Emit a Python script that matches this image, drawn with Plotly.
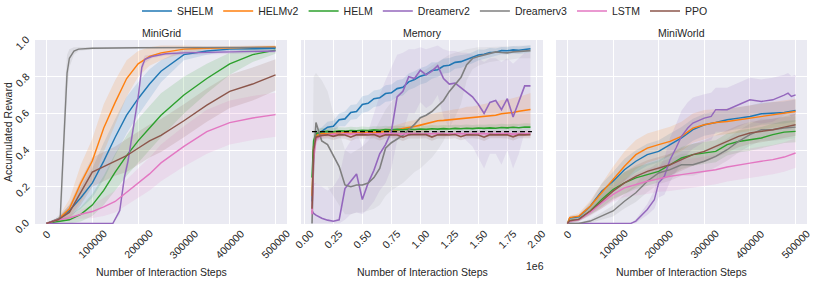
import plotly.graph_objects as go

# ---------------- series names / colours ----------------
NAMES = ["SHELM", "HELMv2", "HELM", "Dreamerv2", "Dreamerv3", "LSTM", "PPO"]
COLORS = ["#1f77b4", "#ff7f0e", "#2ca02c", "#9467bd", "#7f7f7f", "#e377c2", "#8c564b"]

PANEL_TITLES = ["MiniGrid", "Memory", "MiniWorld"]
X_TITLE = "Number of Interaction Steps"
Y_TITLE = "Accumulated Reward"

# ---------------- tick labels ----------------
STEP_TICKS = [0, 100000, 200000, 300000, 400000, 500000]
STEP_TICKTEXT = ["0", "100000", "200000", "300000", "400000", "500000"]
MEM_TICKS = [0, 250000, 500000, 750000, 1000000, 1250000, 1500000, 1750000, 2000000]
MEM_TICKTEXT = ["0.00", "0.25", "0.50", "0.75", "1.00", "1.25", "1.50", "1.75", "2.00"]
MEM_OFFSET_TEXT = "1e6"
Y_TICKS = [0.0, 0.2, 0.4, 0.6, 0.8, 1.0]
Y_TICKTEXT = ["0.0", "0.2", "0.4", "0.6", "0.8", "1.0"]

# ---------------- MiniGrid ----------------
MG_X = [0, 25000, 50000, 75000, 100000, 125000, 150000, 175000, 200000, 225000,
        250000, 300000, 350000, 400000, 450000, 500000]
MG_SHELM = [0, 0.02, 0.07, 0.14, 0.22, 0.34, 0.47, 0.59, 0.68, 0.76, 0.83, 0.92, 0.94, 0.95, 0.952, 0.955]
MG_SHELM_ERR = [0, 0.01, 0.03, 0.06, 0.08, 0.10, 0.10, 0.10, 0.09, 0.08, 0.06, 0.03, 0.02, 0.01, 0.01, 0.01]
MG_HELMV2 = [0, 0.02, 0.08, 0.22, 0.34, 0.52, 0.66, 0.79, 0.87, 0.91, 0.93, 0.95, 0.955, 0.958, 0.96, 0.962]
MG_HELMV2_ERR = [0, 0.01, 0.05, 0.10, 0.12, 0.13, 0.12, 0.10, 0.07, 0.05, 0.04, 0.02, 0.01, 0.01, 0.01, 0.01]
MG_HELM = [0, 0.01, 0.02, 0.05, 0.10, 0.18, 0.28, 0.37, 0.45, 0.52, 0.59, 0.70, 0.79, 0.87, 0.92, 0.945]
MG_HELM_ERR = [0, 0.01, 0.02, 0.04, 0.06, 0.08, 0.10, 0.11, 0.12, 0.12, 0.12, 0.10, 0.08, 0.06, 0.04, 0.02]
MG_PPO = [0, 0.02, 0.06, 0.17, 0.28, 0.31, 0.34, 0.37, 0.41, 0.45, 0.48, 0.56, 0.645, 0.72, 0.76, 0.81]
MG_PPO_ERR = [0, 0.01, 0.04, 0.07, 0.08, 0.08, 0.08, 0.09, 0.09, 0.09, 0.09, 0.09, 0.09, 0.09, 0.09, 0.085]
MG_LSTM = [0, 0.02, 0.03, 0.05, 0.065, 0.09, 0.12, 0.17, 0.22, 0.27, 0.33, 0.42, 0.50, 0.55, 0.575, 0.593]
MG_LSTM_ERR = [0, 0.01, 0.015, 0.025, 0.035, 0.05, 0.06, 0.07, 0.08, 0.09, 0.10, 0.11, 0.12, 0.12, 0.12, 0.12]
MG_DV3_X = [0, 20000, 30000, 35000, 40000, 45000, 50000, 60000, 70000, 100000, 200000, 300000, 400000, 500000]
MG_DV3 = [0, 0.02, 0.03, 0.30, 0.58, 0.82, 0.90, 0.94, 0.95, 0.955, 0.958, 0.96, 0.96, 0.96]
MG_DV3_ERR = [0, 0.01, 0.02, 0.15, 0.15, 0.10, 0.05, 0.02, 0.01, 0.005, 0.005, 0.005, 0.005, 0.005]
MG_DV2_X = [0, 100000, 145000, 160000, 170000, 178000, 189000, 200000, 208000, 215000, 230000,
            260000, 300000, 400000, 500000]
MG_DV2 = [0, 0, 0, 0.07, 0.25, 0.34, 0.51, 0.685, 0.85, 0.895, 0.91, 0.925, 0.93, 0.935, 0.94]
MG_DV2_ERR = [0, 0, 0, 0.02, 0.03, 0.03, 0.03, 0.03, 0.03, 0.02, 0.01, 0.01, 0.01, 0.01, 0.01]

# ---------------- Memory ----------------
MEM_X = [66000, 80000, 100000, 150000, 200000, 250000, 300000, 350000, 400000, 450000,
         500000, 550000, 600000, 650000, 700000, 750000, 800000, 850000, 900000, 950000,
         1000000, 1050000, 1100000, 1150000, 1200000, 1250000, 1300000, 1350000, 1400000, 1450000,
         1500000, 1550000, 1600000, 1650000, 1700000, 1750000, 1800000, 1850000, 1900000, 1950000]
MEM_SHELM = [0.12, 0.40, 0.48, 0.505, 0.525, 0.53, 0.565, 0.57, 0.605, 0.61,
             0.648, 0.655, 0.68, 0.685, 0.708, 0.712, 0.735, 0.742, 0.772, 0.785,
             0.803, 0.812, 0.834, 0.838, 0.858, 0.862, 0.878, 0.882, 0.893, 0.903,
             0.918, 0.922, 0.932, 0.933, 0.942, 0.941, 0.946, 0.944, 0.948, 0.952]
MEM_SHELM_ERR = [0.05, 0.05, 0.03, 0.02, 0.03, 0.03, 0.035, 0.04, 0.04, 0.04,
                 0.045, 0.045, 0.045, 0.045, 0.045, 0.045, 0.045, 0.045, 0.045, 0.045,
                 0.045, 0.045, 0.045, 0.04, 0.04, 0.04, 0.035, 0.035, 0.03, 0.03,
                 0.03, 0.025, 0.025, 0.02, 0.02, 0.02, 0.02, 0.02, 0.02, 0.02]
MEM_HELMV2 = [0.15, 0.42, 0.48, 0.49, 0.488, 0.492, 0.49, 0.494, 0.491, 0.495,
              0.493, 0.497, 0.495, 0.498, 0.50, 0.505, 0.51, 0.518, 0.522, 0.528,
              0.536, 0.545, 0.553, 0.56, 0.562, 0.565, 0.568, 0.572, 0.576, 0.578,
              0.58, 0.585, 0.588, 0.59, 0.598, 0.60, 0.605, 0.612, 0.615, 0.621]
MEM_HELMV2_ERR = [0.10, 0.05, 0.02, 0.015, 0.015, 0.015, 0.015, 0.015, 0.015, 0.015,
                  0.015, 0.015, 0.02, 0.02, 0.02, 0.025, 0.03, 0.03, 0.035, 0.035,
                  0.04, 0.04, 0.045, 0.045, 0.05, 0.05, 0.055, 0.055, 0.06, 0.06,
                  0.065, 0.065, 0.07, 0.07, 0.075, 0.075, 0.08, 0.08, 0.085, 0.09]
MEM_HELM = [0.25, 0.45, 0.49, 0.50, 0.502, 0.50, 0.505, 0.503, 0.507, 0.505,
            0.508, 0.506, 0.51, 0.508, 0.512, 0.51, 0.513, 0.511, 0.514, 0.512,
            0.515, 0.513, 0.516, 0.514, 0.517, 0.515, 0.518, 0.516, 0.519, 0.517,
            0.52, 0.518, 0.521, 0.519, 0.523, 0.521, 0.524, 0.522, 0.526, 0.525]
MEM_HELM_ERR = [0.10, 0.05, 0.02, 0.02, 0.02, 0.02, 0.02, 0.02, 0.02, 0.02,
                0.02, 0.02, 0.02, 0.02, 0.02, 0.02, 0.02, 0.02, 0.02, 0.02,
                0.02, 0.02, 0.02, 0.02, 0.02, 0.02, 0.02, 0.02, 0.02, 0.02,
                0.02, 0.02, 0.02, 0.02, 0.02, 0.02, 0.02, 0.02, 0.02, 0.02]
MEM_LSTM = [0.05, 0.35, 0.46, 0.48, 0.485, 0.488, 0.486, 0.489, 0.487, 0.49,
            0.488, 0.49, 0.487, 0.489, 0.488, 0.49, 0.487, 0.489, 0.488, 0.49,
            0.487, 0.489, 0.488, 0.49, 0.487, 0.489, 0.488, 0.49, 0.487, 0.489,
            0.488, 0.49, 0.487, 0.489, 0.488, 0.49, 0.487, 0.489, 0.488, 0.49]
MEM_LSTM_ERR = [0.05, 0.05, 0.02, 0.015, 0.015, 0.015, 0.015, 0.015, 0.015, 0.015,
                0.015, 0.015, 0.015, 0.015, 0.015, 0.015, 0.015, 0.015, 0.015, 0.015,
                0.015, 0.015, 0.015, 0.015, 0.015, 0.015, 0.015, 0.015, 0.015, 0.015,
                0.015, 0.015, 0.015, 0.015, 0.015, 0.015, 0.015, 0.015, 0.015, 0.015]
MEM_PPO = [0.08, 0.40, 0.47, 0.48, 0.483, 0.475, 0.484, 0.482, 0.47, 0.483,
           0.484, 0.482, 0.485, 0.472, 0.483, 0.484, 0.482, 0.47, 0.483, 0.485,
           0.483, 0.484, 0.471, 0.483, 0.484, 0.482, 0.485, 0.473, 0.483, 0.484,
           0.482, 0.47, 0.484, 0.483, 0.485, 0.483, 0.472, 0.484, 0.483, 0.484]
MEM_PPO_ERR = [0.05, 0.05, 0.02, 0.02, 0.02, 0.02, 0.02, 0.02, 0.02, 0.02,
               0.02, 0.02, 0.02, 0.02, 0.02, 0.02, 0.02, 0.02, 0.02, 0.02,
               0.02, 0.02, 0.02, 0.02, 0.02, 0.02, 0.02, 0.02, 0.02, 0.02,
               0.02, 0.02, 0.02, 0.02, 0.02, 0.02, 0.02, 0.02, 0.02, 0.02]
MEM_DV3 = [0.0, 0.35, 0.55, 0.45, 0.43, 0.37, 0.31, 0.21, 0.20, 0.21,
           0.21, 0.22, 0.25, 0.30, 0.41, 0.44, 0.46, 0.48, 0.51, 0.54,
           0.576, 0.59, 0.61, 0.64, 0.67, 0.72, 0.755, 0.795, 0.865, 0.90,
           0.91, 0.918, 0.925, 0.935, 0.932, 0.93, 0.935, 0.938, 0.94, 0.942]
MEM_DV3_LO = [0.0, 0.20, 0.22, 0.20, 0.20, 0.15, 0.10, 0.05, 0.05, 0.06,
              0.06, 0.07, 0.08, 0.10, 0.15, 0.18, 0.20, 0.22, 0.25, 0.28,
              0.30, 0.33, 0.36, 0.40, 0.45, 0.52, 0.58, 0.65, 0.78, 0.84,
              0.86, 0.87, 0.88, 0.885, 0.89, 0.89, 0.895, 0.90, 0.90, 0.90]
MEM_DV3_HI = [0.10, 0.80, 0.82, 0.78, 0.72, 0.60, 0.50, 0.40, 0.38, 0.40,
              0.42, 0.45, 0.50, 0.56, 0.62, 0.66, 0.70, 0.73, 0.76, 0.79,
              0.82, 0.84, 0.86, 0.88, 0.90, 0.92, 0.93, 0.94, 0.95, 0.955,
              0.96, 0.96, 0.962, 0.965, 0.965, 0.965, 0.967, 0.968, 0.97, 0.97]
MEM_DV2 = [0.069, 0.055, 0.045, 0.028, 0.018, 0.012, 0.02, 0.19, 0.23, 0.27,
           0.13, 0.22, 0.29, 0.38, 0.43, 0.50, 0.69, 0.72, 0.80, 0.79,
           0.835, 0.81, 0.83, 0.86, 0.79, 0.76, 0.765, 0.74, 0.72, 0.69,
           0.65, 0.60, 0.66, 0.67, 0.62, 0.68, 0.58, 0.66, 0.75, 0.75]
MEM_DV2_LO = [0.0, 0.0, 0.0, 0.0, 0.0, 0.0, 0.0, 0.02, 0.05, 0.06,
              0.05, 0.08, 0.12, 0.18, 0.22, 0.30, 0.45, 0.50, 0.60, 0.60,
              0.66, 0.63, 0.65, 0.70, 0.58, 0.52, 0.52, 0.48, 0.45, 0.42,
              0.36, 0.30, 0.38, 0.38, 0.32, 0.40, 0.30, 0.38, 0.50, 0.50]
MEM_DV2_HI = [0.20, 0.22, 0.22, 0.20, 0.18, 0.20, 0.25, 0.40, 0.45, 0.50,
              0.42, 0.50, 0.60, 0.70, 0.78, 0.85, 0.92, 0.93, 0.95, 0.95,
              0.96, 0.95, 0.96, 0.97, 0.95, 0.94, 0.94, 0.93, 0.93, 0.92,
              0.90, 0.88, 0.90, 0.90, 0.88, 0.90, 0.87, 0.90, 0.93, 0.93]
MEM_BASELINE_X = [66000, 1963000]
MEM_BASELINE_Y = [0.5, 0.5]

# ---------------- MiniWorld ----------------
MW_X = [0, 5000, 25000, 50000, 75000, 100000, 125000, 150000, 175000, 200000, 225000,
        250000, 275000, 300000, 325000, 350000, 375000, 400000, 425000, 450000, 475000, 500000]
MW_SHELM = [0, 0.03, 0.036, 0.094, 0.176, 0.23, 0.293, 0.339, 0.375, 0.393, 0.43,
            0.466, 0.511, 0.538, 0.55, 0.565, 0.574, 0.583, 0.598, 0.60, 0.605, 0.616]
MW_HELMV2 = [0, 0.032, 0.04, 0.094, 0.167, 0.239, 0.312, 0.375, 0.411, 0.43, 0.447,
             0.475, 0.52, 0.538, 0.55, 0.556, 0.565, 0.574, 0.583, 0.592, 0.60, 0.61]
MW_HELM = [0, 0.015, 0.022, 0.068, 0.13, 0.185, 0.221, 0.248, 0.266, 0.284, 0.32,
           0.357, 0.375, 0.384, 0.393, 0.43, 0.447, 0.456, 0.466, 0.484, 0.498, 0.502]
MW_PPO = [0, 0.015, 0.022, 0.068, 0.121, 0.176, 0.221, 0.257, 0.284, 0.302, 0.32,
          0.348, 0.375, 0.393, 0.42, 0.447, 0.475, 0.493, 0.502, 0.511, 0.525, 0.538]
MW_DV3 = [0, 0.0, 0.0, 0.013, 0.04, 0.068, 0.121, 0.167, 0.23, 0.275, 0.293,
          0.32, 0.32, 0.339, 0.366, 0.402, 0.447, 0.484, 0.511, 0.511, 0.52, 0.525]
MW_LSTM = [0, 0.012, 0.02, 0.06, 0.112, 0.158, 0.194, 0.212, 0.23, 0.243, 0.257,
           0.266, 0.275, 0.284, 0.293, 0.308, 0.32, 0.329, 0.339, 0.348, 0.362, 0.384]
MW_SHELM_ERR = [0, 0.01, 0.01, 0.02, 0.04, 0.05, 0.06, 0.06, 0.06, 0.06, 0.06,
                0.06, 0.06, 0.06, 0.06, 0.06, 0.06, 0.06, 0.06, 0.06, 0.06, 0.06]
MW_HELMV2_ERR = [0, 0.01, 0.015, 0.03, 0.05, 0.07, 0.08, 0.08, 0.08, 0.08, 0.08,
                 0.08, 0.08, 0.08, 0.07, 0.07, 0.07, 0.07, 0.07, 0.07, 0.07, 0.07]
MW_HELM_ERR = [0, 0.01, 0.01, 0.02, 0.04, 0.05, 0.06, 0.06, 0.06, 0.06, 0.06,
               0.06, 0.06, 0.06, 0.06, 0.06, 0.06, 0.06, 0.06, 0.06, 0.06, 0.06]
MW_PPO_ERR = [0, 0.01, 0.01, 0.02, 0.04, 0.05, 0.06, 0.06, 0.06, 0.06, 0.06,
              0.06, 0.06, 0.06, 0.06, 0.06, 0.06, 0.06, 0.06, 0.06, 0.06, 0.06]
MW_DV3_ERR = [0, 0, 0.005, 0.01, 0.02, 0.03, 0.04, 0.05, 0.06, 0.06, 0.06,
              0.06, 0.06, 0.06, 0.06, 0.06, 0.06, 0.06, 0.06, 0.06, 0.06, 0.06]
MW_LSTM_ERR = [0, 0.01, 0.01, 0.02, 0.03, 0.04, 0.05, 0.06, 0.07, 0.07, 0.08,
               0.08, 0.08, 0.08, 0.08, 0.08, 0.08, 0.08, 0.08, 0.08, 0.08, 0.08]
MW_DV2_X = [0, 100000, 139000, 150000, 175000, 190500, 200000, 212500, 225000, 238000,
            250000, 263700, 275000, 300000, 315000, 325000, 350000, 375000, 400000, 425000,
            450000, 475000, 483500, 490800, 500000]
MW_DV2 = [0, 0, 0, 0.013, 0.076, 0.13, 0.221, 0.257, 0.348, 0.411,
          0.475, 0.52, 0.547, 0.574, 0.583, 0.62, 0.62, 0.647, 0.674, 0.665,
          0.674, 0.70, 0.71, 0.692, 0.701]
MW_DV2_ERR = [0, 0, 0, 0.01, 0.03, 0.05, 0.08, 0.10, 0.12, 0.13,
              0.14, 0.14, 0.14, 0.13, 0.13, 0.12, 0.12, 0.12, 0.12, 0.12,
              0.12, 0.11, 0.11, 0.11, 0.11]


def band(y, err):
    lo = [max(0.0, a - e) for a, e in zip(y, err)]
    hi = [min(1.0, a + e) for a, e in zip(y, err)]
    return lo, hi


def series(x, y, err=None, lo=None, hi=None):
    if err is not None:
        lo, hi = band(y, err)
    return dict(x=x, y=y, lo=lo, hi=hi)


PANELS = [
    {
        "SHELM": series(MG_X, MG_SHELM, MG_SHELM_ERR),
        "HELMv2": series(MG_X, MG_HELMV2, MG_HELMV2_ERR),
        "HELM": series(MG_X, MG_HELM, MG_HELM_ERR),
        "Dreamerv2": series(MG_DV2_X, MG_DV2, MG_DV2_ERR),
        "Dreamerv3": series(MG_DV3_X, MG_DV3, MG_DV3_ERR),
        "LSTM": series(MG_X, MG_LSTM, MG_LSTM_ERR),
        "PPO": series(MG_X, MG_PPO, MG_PPO_ERR),
    },
    {
        "SHELM": series(MEM_X, MEM_SHELM, MEM_SHELM_ERR),
        "HELMv2": series(MEM_X, MEM_HELMV2, MEM_HELMV2_ERR),
        "HELM": series(MEM_X, MEM_HELM, MEM_HELM_ERR),
        "Dreamerv2": series(MEM_X, MEM_DV2, lo=MEM_DV2_LO, hi=MEM_DV2_HI),
        "Dreamerv3": series(MEM_X, MEM_DV3, lo=MEM_DV3_LO, hi=MEM_DV3_HI),
        "LSTM": series(MEM_X, MEM_LSTM, MEM_LSTM_ERR),
        "PPO": series(MEM_X, MEM_PPO, MEM_PPO_ERR),
    },
    {
        "SHELM": series(MW_X, MW_SHELM, MW_SHELM_ERR),
        "HELMv2": series(MW_X, MW_HELMV2, MW_HELMV2_ERR),
        "HELM": series(MW_X, MW_HELM, MW_HELM_ERR),
        "Dreamerv2": series(MW_DV2_X, MW_DV2, MW_DV2_ERR),
        "Dreamerv3": series(MW_X, MW_DV3, MW_DV3_ERR),
        "LSTM": series(MW_X, MW_LSTM, MW_LSTM_ERR),
        "PPO": series(MW_X, MW_PPO, MW_PPO_ERR),
    },
]

# ---------------- layout geometry ----------------
W, H = 830, 286
ML, MR, MT, MB = 35, 23, 40, 62
PW = W - ML - MR
PH = H - MT - MB
DOMAINS = [[0.0, (287 - ML) / PW], [(301 - ML) / PW, (543 - ML) / PW], [(556 - ML) / PW, 1.0]]
XRANGES = [[-25000, 525000], [-29000, 2058000], [-25000, 525000]]


def py(pix):
    """convert a pixel row (from top of figure) to paper y"""
    return (MT + PH - pix) / PH


def px(pix):
    """convert a pixel column (from left of figure) to paper x"""
    return (pix - ML) / PW


FONT = "Liberation Sans, Arial, sans-serif"
TXT = "#262626"
BG = "#EAEAF2"
FS = 10.5


def rgba(hexc, a):
    h = hexc.lstrip("#")
    return "rgba(%d,%d,%d,%.2f)" % (int(h[0:2], 16), int(h[2:4], 16), int(h[4:6], 16), a)


fig = go.Figure()

for p, panel in enumerate(PANELS):
    xa = "x" if p == 0 else "x%d" % (p + 1)
    ya = "y" if p == 0 else "y%d" % (p + 1)
    for name, col in zip(NAMES, COLORS):
        s = panel[name]
        alpha = 0.15
        if name == "Dreamerv3":
            alpha = 0.10 if p == 1 else 0.13
        if name == "Dreamerv2" and p == 1:
            alpha = 0.12
        fig.add_trace(go.Scatter(
            x=list(s["x"]) + list(s["x"])[::-1],
            y=list(s["hi"]) + list(s["lo"])[::-1],
            fill="toself", fillcolor=rgba(col, alpha),
            line=dict(width=0), mode="lines", hoverinfo="skip", showlegend=False,
            xaxis=xa, yaxis=ya))
    for name, col in zip(NAMES, COLORS):
        s = panel[name]
        fig.add_trace(go.Scatter(
            x=s["x"], y=s["y"], mode="lines", name=name,
            line=dict(color=col, width=1.6 if p == 1 else 1.4),
            showlegend=(p == 0), legendgroup=name, xaxis=xa, yaxis=ya))
    if p == 1:
        fig.add_trace(go.Scatter(
            x=MEM_BASELINE_X, y=MEM_BASELINE_Y, mode="lines",
            line=dict(color="black", width=1.2, dash="5px,3px"),
            showlegend=False, hoverinfo="skip", xaxis=xa, yaxis=ya))

axis_common = dict(showgrid=True, gridcolor="white", gridwidth=1, zeroline=False,
                   showline=False, ticks="", showticklabels=False)

layout = dict(
    width=W, height=H,
    margin=dict(l=ML, r=MR, t=MT, b=MB, pad=0, autoexpand=False),
    paper_bgcolor="white", plot_bgcolor=BG,
    font=dict(family=FONT, size=FS, color=TXT),
    showlegend=True,
    legend=dict(orientation="h", x=px(425), xanchor="center",
                y=py(11), yanchor="middle",
                font=dict(size=FS, color=TXT, family=FONT),
                bgcolor="rgba(0,0,0,0)", itemwidth=30, tracegroupgap=0),
)

annotations = []
for p in range(3):
    key = "xaxis" if p == 0 else "xaxis%d" % (p + 1)
    ykey = "yaxis" if p == 0 else "yaxis%d" % (p + 1)
    xref = "x" if p == 0 else "x%d" % (p + 1)
    if p == 1:
        tv, tt = MEM_TICKS, MEM_TICKTEXT
    else:
        tv, tt = STEP_TICKS, STEP_TICKTEXT
    layout[key] = dict(axis_common, domain=DOMAINS[p], range=XRANGES[p], tickvals=tv,
                       anchor="y" if p == 0 else "y%d" % (p + 1))
    layout[ykey] = dict(axis_common, domain=[0, 1], range=[-0.003, 1.0], tickvals=Y_TICKS,
                        anchor="x" if p == 0 else "x%d" % (p + 1))
    # rotated x tick labels centred under each tick (matplotlib style)
    for v, t in zip(tv, tt):
        annotations.append(dict(text=t, x=v, xref=xref, y=py(226), yref="paper",
                                xanchor="center", yanchor="top", textangle=-45,
                                showarrow=False, borderpad=0,
                                font=dict(size=FS, color=TXT, family=FONT)))
    cx = (DOMAINS[p][0] + DOMAINS[p][1]) / 2
    annotations.append(dict(text=PANEL_TITLES[p], x=cx, y=py(33), xref="paper", yref="paper",
                            xanchor="center", yanchor="middle", showarrow=False,
                            font=dict(size=FS, color=TXT, family=FONT)))
    annotations.append(dict(text=X_TITLE, x=cx, y=py(272), xref="paper", yref="paper",
                            xanchor="center", yanchor="middle", showarrow=False,
                            font=dict(size=FS, color=TXT, family=FONT)))

# rotated y tick labels (first panel only)
for v, t in zip(Y_TICKS, Y_TICKTEXT):
    annotations.append(dict(text=t, x=px(33), xref="paper", y=v, yref="y",
                            xanchor="right", yanchor="middle", textangle=-45, yshift=-3,
                            showarrow=False, borderpad=0,
                            font=dict(size=FS, color=TXT, family=FONT)))

annotations.append(dict(text=Y_TITLE, x=px(8), y=0.5, xref="paper", yref="paper",
                        xanchor="center", yanchor="middle", textangle=-90, showarrow=False,
                        font=dict(size=FS, color=TXT, family=FONT)))
annotations.append(dict(text=MEM_OFFSET_TEXT, x=px(546), y=py(266),
                        xref="paper", yref="paper", xanchor="right", yanchor="middle",
                        showarrow=False, font=dict(size=FS, color=TXT, family=FONT)))
layout["annotations"] = annotations

fig.update_layout(**layout)
fig.write_html("out.html", config={"displayModeBar": False},
               post_script="document.body.style.margin='0';")
